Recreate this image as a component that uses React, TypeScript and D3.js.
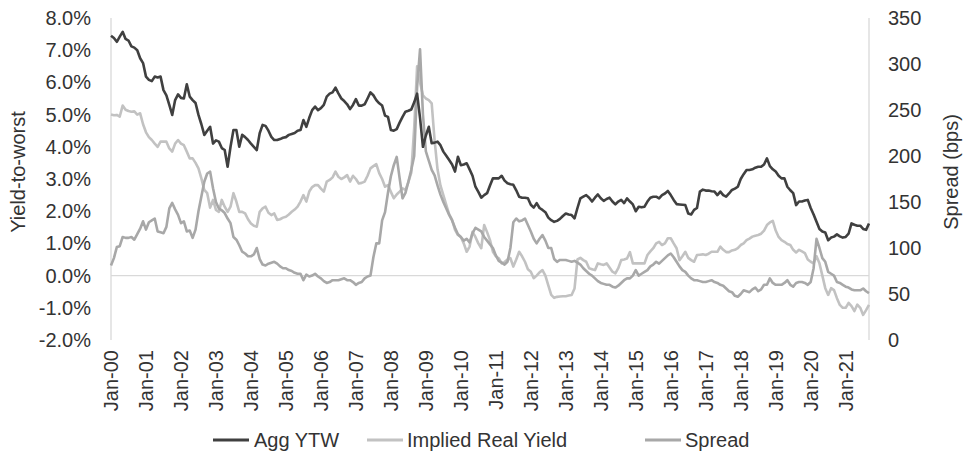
import React from "react";
import * as d3 from "d3";

// monthly values, Jan-2000 .. Sep-2021 (one row per year)
const aggYtw = [
  7.45, 7.38, 7.26, 7.42, 7.57, 7.35, 7.3, 7.12, 7.08, 7.0, 6.75, 6.6,
  6.18, 6.08, 6.04, 6.18, 6.15, 6.18, 5.76, 5.6, 5.3, 4.99, 5.45, 5.63,
  5.52, 5.5, 5.94, 5.56, 5.45, 5.36, 4.99, 4.7, 4.37, 4.5, 4.62, 4.1,
  4.2, 4.16, 3.96, 3.9, 3.38, 4.0, 4.52, 4.52, 4.0, 4.37, 4.3, 4.21,
  4.1, 4.0, 3.9, 4.42, 4.68, 4.65, 4.5, 4.31, 4.21, 4.21, 4.24, 4.28,
  4.3, 4.37, 4.4, 4.43, 4.5, 4.52, 4.83, 4.62, 4.9, 5.14, 5.25, 5.14,
  5.2, 5.3, 5.56, 5.65, 5.69, 5.84, 5.66, 5.5, 5.42, 5.32, 5.17, 5.3,
  5.48, 5.28, 5.28, 5.32, 5.5, 5.69, 5.6, 5.45, 5.35, 5.28, 4.97, 4.93,
  4.52, 4.5, 4.55, 4.75, 4.93, 5.09, 5.12, 5.16, 5.38, 5.65, 4.9, 4.0,
  4.35, 4.62, 4.11, 4.13, 4.16, 4.05, 3.85, 3.72, 3.59, 3.45, 3.23, 3.69,
  3.43, 3.45, 3.49, 3.3, 3.1, 2.76, 2.6, 2.42, 2.5, 2.56, 2.8, 3.02,
  3.02, 3.02, 3.1, 2.95, 2.87, 2.84, 2.82, 2.65, 2.45, 2.42, 2.42, 2.4,
  2.2, 2.11, 2.25, 2.1, 2.04, 1.97, 1.8, 1.72, 1.67, 1.7, 1.76, 1.85,
  1.93, 1.9, 1.88, 1.78, 2.1, 2.4, 2.45, 2.5, 2.42, 2.3, 2.42, 2.52,
  2.4, 2.32, 2.38, 2.42, 2.3, 2.21, 2.3, 2.35, 2.25, 2.4, 2.3, 2.21,
  2.0, 2.14, 2.12, 2.14, 2.3, 2.42, 2.45, 2.45, 2.4, 2.5, 2.55, 2.63,
  2.5, 2.35, 2.22, 2.21, 2.2, 2.19, 1.93, 1.9, 2.04, 2.1, 2.61, 2.67,
  2.64, 2.64, 2.62, 2.61, 2.5, 2.61, 2.5, 2.45, 2.55, 2.66, 2.7, 2.76,
  3.0, 3.15, 3.28, 3.28, 3.3, 3.35, 3.38, 3.38, 3.45, 3.64, 3.4, 3.3,
  3.23, 3.1, 3.02, 3.02, 2.76, 2.65, 2.56, 2.19, 2.3, 2.3, 2.33, 2.35,
  2.1, 1.9, 1.67, 1.45, 1.37, 1.34, 1.1, 1.18, 1.21, 1.28, 1.22, 1.18,
  1.2, 1.3, 1.62, 1.58, 1.55, 1.55, 1.45, 1.42, 1.62,
];

const impliedRealYield = [
  5.0, 4.98, 4.99, 4.94, 5.28, 5.15, 5.11, 5.09, 5.1, 5.0, 5.04, 4.7,
  4.45, 4.3, 4.21, 4.1, 4.0, 4.16, 4.16, 4.16, 3.95, 3.85, 4.1, 4.21,
  4.1, 4.05, 3.85, 3.64, 3.64, 3.5, 3.33, 3.02, 2.66, 2.56, 2.11, 2.35,
  2.04, 1.98, 2.35, 2.14, 1.98, 2.14, 2.56, 2.3, 1.98, 1.98, 1.93, 1.75,
  1.62, 1.55, 1.52, 1.98, 2.09, 2.14, 1.95, 1.88, 1.93, 1.73, 1.75, 1.8,
  1.83, 1.9, 1.98, 2.05, 2.14, 2.3, 2.5, 2.3, 2.61, 2.75, 2.81, 2.81,
  2.7, 2.61, 2.92, 2.97, 3.05, 3.23, 3.07, 3.0, 3.05, 3.12, 2.92, 3.1,
  3.0, 2.86, 2.88, 2.92, 3.1, 3.33, 3.4, 3.46, 3.18, 3.0, 2.76, 2.81,
  2.6, 2.4, 2.52, 2.61, 2.71, 2.66, 2.9, 3.2, 4.6, 6.5, 6.0, 5.6,
  5.5, 5.45, 5.35, 4.2, 3.3, 2.8, 2.5, 2.2, 1.9, 1.73, 1.42, 1.26,
  1.2, 1.0, 0.74, 0.9, 1.36, 1.2, 1.0, 0.85, 1.57, 1.35, 1.1, 0.74,
  0.6, 0.54, 0.38, 0.42, 0.5, 0.54, 0.28, 0.5, 0.74, 0.6, 0.43, 0.2,
  0.12, -0.08, 0.0, 0.1, 0.17, 0.0, -0.3, -0.6, -0.69, -0.66, -0.65, -0.64,
  -0.64, -0.62, -0.6, -0.4, 0.5, 0.55, 0.48, 0.43, 0.23, 0.2, 0.17, 0.38,
  0.35, 0.33, 0.38, 0.25, 0.12, 0.07, 0.23, 0.48, 0.5, 0.53, 0.73, 0.38,
  0.38, 0.38, 0.38, 0.38, 0.64, 0.75, 0.85, 1.0, 1.05, 0.95, 1.0, 1.16,
  1.16, 1.0, 0.85, 0.48, 0.6, 0.74, 0.55, 0.48, 0.43, 0.64, 0.65, 0.66,
  0.64, 0.68, 0.74, 0.74, 0.74, 0.9, 0.8, 0.73, 0.73, 0.78, 0.8, 0.85,
  0.95, 1.0, 1.1, 1.15, 1.21, 1.24, 1.26, 1.3, 1.4, 1.57, 1.65, 1.7,
  1.4, 1.2, 1.1, 1.05, 0.98, 0.95, 0.8, 0.72, 0.8, 0.75, 0.7, 0.5,
  0.43, 0.38, 0.6, 0.38, 0.0, -0.39, -0.6, -0.39, -0.45, -0.7, -0.91, -1.0,
  -1.0, -0.85, -0.95, -1.1, -0.9, -1.0, -1.22, -1.07, -0.91,
];

// bps, right axis
const spread = [
  81, 89, 101, 102, 112, 111, 111, 112, 109, 115, 121, 129,
  120, 128, 130, 132, 118, 117, 116, 123, 143, 149, 142, 136,
  127, 129, 118, 119, 111, 120, 140, 156, 172, 181, 183, 165,
  150, 143, 141, 138, 132, 127, 112, 109, 103, 96, 94, 91,
  91, 93, 100, 88, 82, 81, 83, 84, 85, 83, 80, 78,
  78, 76, 75, 73, 72, 72, 65, 71, 69, 70, 72, 69,
  67, 64, 62, 63, 65, 65, 65, 66, 67, 65, 65, 63,
  60, 62, 63, 67, 69, 70, 90, 105, 105, 130, 139, 160,
  178, 190, 199, 176, 154, 160, 172, 185, 200, 275, 316, 245,
  205, 195, 185, 179, 168, 158, 150, 143, 136, 130, 122, 115,
  112, 108, 110, 106, 116, 122, 120, 118, 112, 108, 104, 100,
  92, 86, 84, 82, 85, 100, 128, 132, 129, 130, 132, 125,
  118, 110, 105, 110, 114, 108, 100, 100, 88, 85, 87, 87,
  87, 86, 85, 86, 84, 82, 78, 75, 72, 70, 67, 64,
  62, 61, 60, 60, 58, 57, 59, 62, 65, 67, 67, 70,
  76, 70, 72, 74, 76, 80, 82, 85, 83, 86, 89, 92,
  94, 90, 85, 80, 76, 74, 70, 67, 65, 65, 64, 63,
  63, 64, 65, 63, 62, 60, 59, 56, 53, 52, 48, 47,
  50, 54, 53, 52, 55, 57, 53, 55, 60, 60, 67, 62,
  60, 60, 60, 62, 65, 60, 58, 62, 63, 63, 62, 60,
  63, 78, 110, 100, 89, 85, 74, 72, 70, 63, 62, 60,
  58, 57, 55, 54, 54, 54, 56, 53, 51,
];

const yearLabels = [
  "Jan-00", "Jan-01", "Jan-02", "Jan-03", "Jan-04", "Jan-05", "Jan-06",
  "Jan-07", "Jan-08", "Jan-09", "Jan-10", "Jan-11", "Jan-12", "Jan-13",
  "Jan-14", "Jan-15", "Jan-16", "Jan-17", "Jan-18", "Jan-19", "Jan-20", "Jan-21",
];
const leftTicks = [8, 7, 6, 5, 4, 3, 2, 1, 0, -1, -2];
const rightTicks = [350, 300, 250, 200, 150, 100, 50, 0];

const series = [
  { name: "Agg YTW", values: aggYtw, color: "#404040", axis: "left" },
  { name: "Implied Real Yield", values: impliedRealYield, color: "#c2c2c2", axis: "left" },
  { name: "Spread", values: spread, color: "#a8a8a8", axis: "right" },
];

const font = "'Liberation Sans', Arial, sans-serif";
const textColor = "#333";
const axisColor = "#d9d9d9";

export default function App() {
  const width = 968;
  const height = 461;
  const left = 111;
  const right = 869;
  const top = 18;
  const bottom = 340;

  const x = d3.scaleLinear().domain([0, aggYtw.length - 1]).range([left, right]);
  const yL = d3.scaleLinear().domain([-2, 8]).range([bottom, top]);
  const yR = d3.scaleLinear().domain([0, 350]).range([bottom, top]);

  const pathFor = (vals: number[], axis: string) =>
    d3
      .line<number>()
      .x((_, i) => x(i))
      .y((d) => (axis === "left" ? yL(d) : yR(d)))(vals) || "";

  // legend layout
  const legend = [
    { lineX: 213, textX: 254 },
    { lineX: 367, textX: 407 },
    { lineX: 645, textX: 685 },
  ];
  const legendY = 440;

  return (
    <svg
      width={width}
      height={height}
      style={{ position: "absolute", left: 0, top: 0, background: "#fff" }}
      fontFamily={font}
    >
      {/* axes lines */}
      <line x1={left} x2={left} y1={top} y2={bottom} stroke={axisColor} strokeWidth={1.3} />
      <line x1={right} x2={right} y1={top} y2={bottom} stroke={axisColor} strokeWidth={1.3} />
      <line x1={left} x2={right} y1={yL(0)} y2={yL(0)} stroke={axisColor} strokeWidth={1.3} />

      {/* left ticks */}
      {leftTicks.map((t) => (
        <text key={t} x={91} y={yL(t)} dy="0.35em" textAnchor="end" fontSize={20} fill={textColor}>
          {t.toFixed(1) + "%"}
        </text>
      ))}
      {/* right ticks */}
      {rightTicks.map((t) => (
        <text key={t} x={888} y={yR(t)} dy="0.35em" textAnchor="start" fontSize={20} fill={textColor}>
          {t}
        </text>
      ))}

      {/* x labels */}
      {yearLabels.map((lab, i) => (
        <text
          key={lab}
          transform={`translate(${x(i * 12)},350) rotate(-90)`}
          dy="0.35em"
          textAnchor="end"
          fontSize={20}
          fill={textColor}
        >
          {lab}
        </text>
      ))}

      {/* axis titles */}
      <text transform="translate(18,172) rotate(-90)" dy="0.35em" textAnchor="middle" fontSize={20} fill={textColor}>
        Yield-to-worst
      </text>
      <text transform="translate(951,172) rotate(-90)" dy="0.35em" textAnchor="middle" fontSize={20} fill={textColor}>
        Spread (bps)
      </text>

      {/* series, drawn back to front */}
      {[series[1], series[2], series[0]].map((s) => (
        <path
          key={s.name}
          d={pathFor(s.values, s.axis)}
          fill="none"
          stroke={s.color}
          strokeWidth={2.6}
          strokeLinejoin="round"
        />
      ))}

      {/* legend */}
      {series.map((s, i) => (
        <g key={s.name}>
          <line
            x1={legend[i].lineX}
            x2={legend[i].lineX + 36}
            y1={legendY}
            y2={legendY}
            stroke={s.color}
            strokeWidth={3}
          />
          <text x={legend[i].textX} y={legendY} dy="0.35em" fontSize={20} fill={textColor}>
            {s.name}
          </text>
        </g>
      ))}
    </svg>
  );
}
